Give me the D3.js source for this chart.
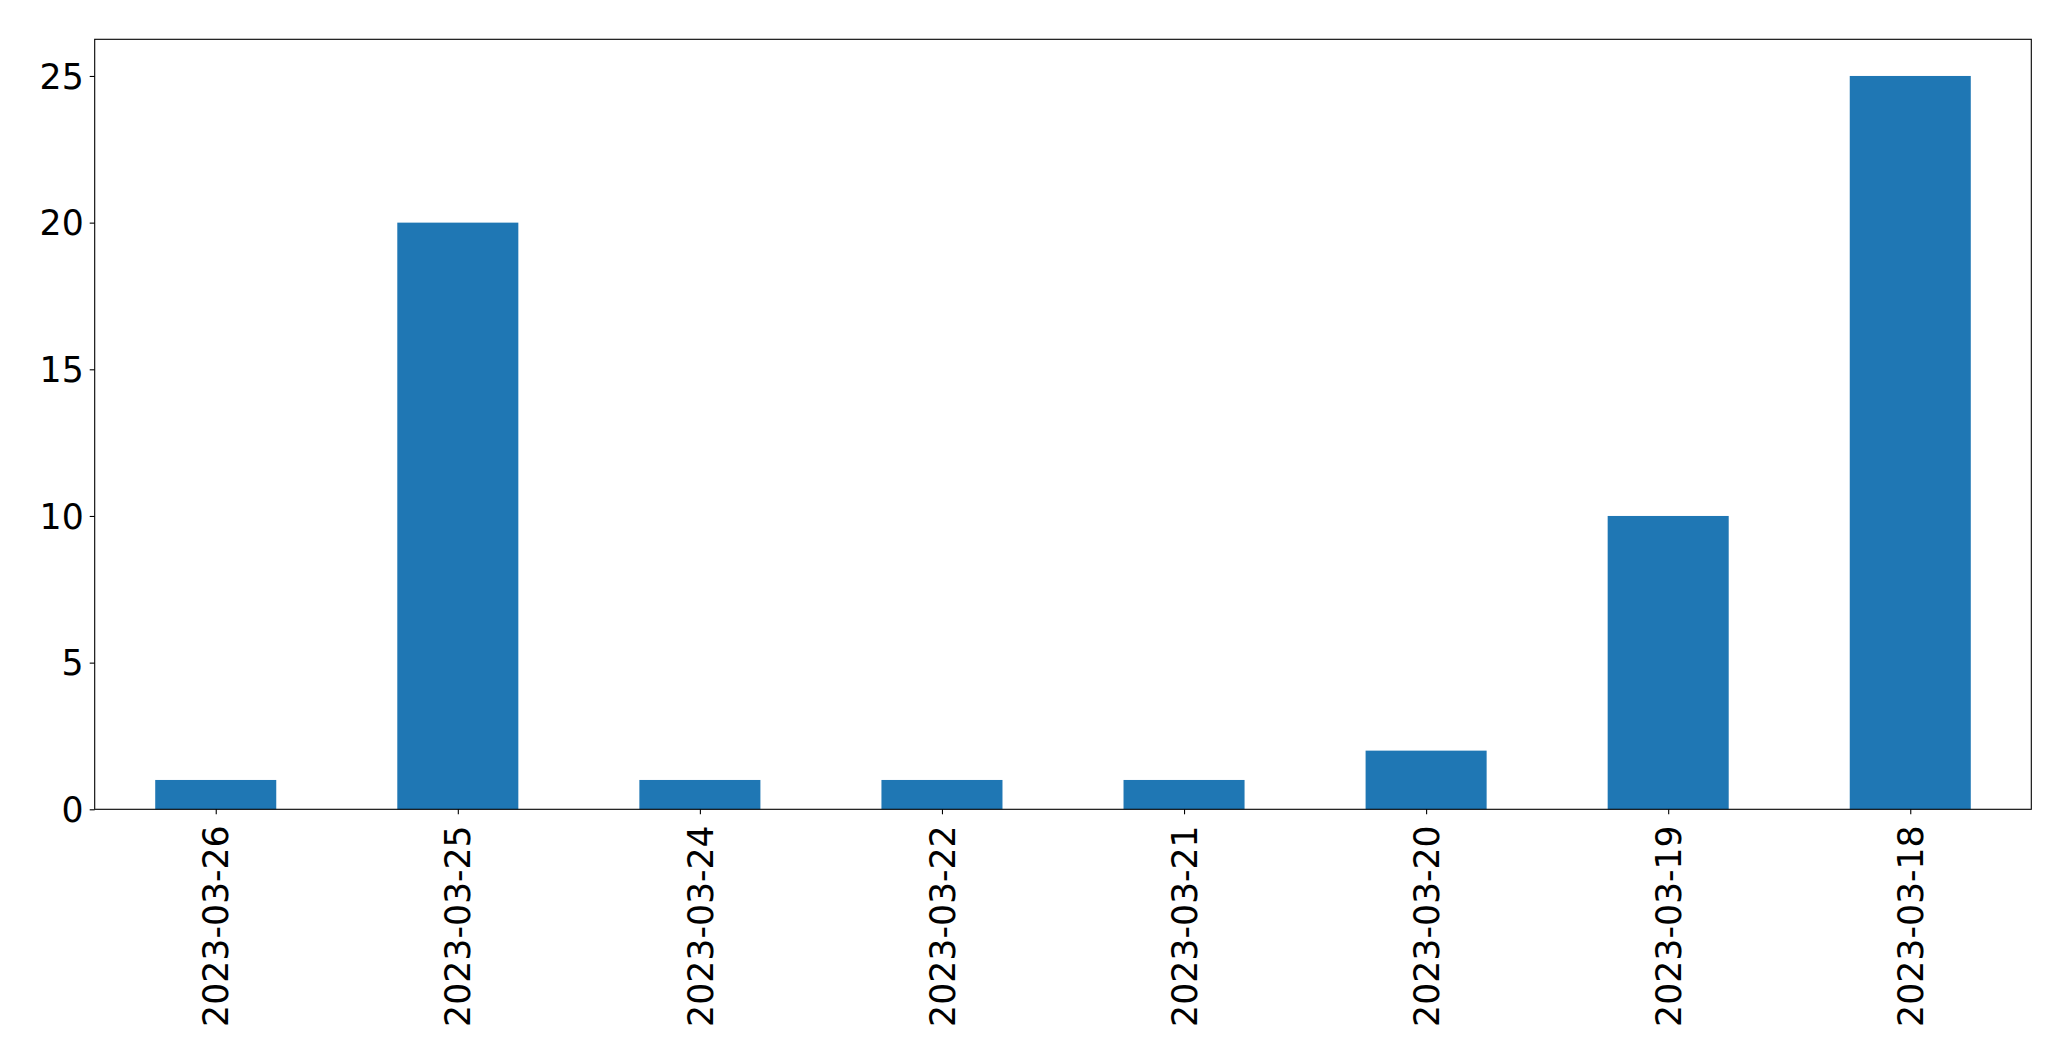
<!DOCTYPE html>
<html>
<head>
<meta charset="utf-8">
<script src="https://cdn.jsdelivr.net/npm/d3@7"></script>
<style>
html,body{margin:0;padding:0;background:#fff;}
svg{display:block;}
</style>
</head>
<body>
<script>
const categories = ["2023-03-26","2023-03-25","2023-03-24","2023-03-22","2023-03-21","2023-03-20","2023-03-19","2023-03-18"];
const values = [1, 20, 1, 1, 1, 2, 10, 25];
const yTicks = [0, 5, 10, 15, 20, 25];

const W = 2071, H = 1061;
const m = {left: 94.7, top: 39.3, right: W - 2031.3, bottom: H - 809.3};
const iw = W - m.left - m.right, ih = H - m.top - m.bottom;

const svg = d3.select("body").append("svg").attr("width", W).attr("height", H);
const g = svg.append("g").attr("transform", `translate(${m.left},${m.top})`);

const x = d3.scaleLinear().domain([-0.5, categories.length - 0.5]).range([0, iw]);
const y = d3.scaleLinear().domain([0, d3.max(values) * 1.05]).range([ih, 0]);

g.selectAll("rect.bar").data(values).join("rect")
  .attr("class", "bar")
  .attr("x", (d, i) => x(i - 0.25))
  .attr("width", (d, i) => x(i + 0.25) - x(i - 0.25))
  .attr("y", d => y(d))
  .attr("height", d => y(0) - y(d))
  .attr("fill", "#1f77b4");

const font = "'DejaVu Sans', sans-serif";
const fs = 34.7;

const yAxis = g.append("g").call(d3.axisLeft(y).tickValues(yTicks).tickSize(5).tickPadding(6).tickFormat(d3.format("d")));
yAxis.select(".domain").remove();
yAxis.selectAll("line").attr("stroke", "#000").attr("stroke-width", 1.1);
yAxis.selectAll("text").attr("font-family", font).attr("font-size", fs).attr("fill", "#000").attr("dy", "0.35em");

const xAxis = g.append("g").attr("transform", `translate(0,${ih})`)
  .call(d3.axisBottom(x).tickValues(d3.range(categories.length)).tickSize(5).tickFormat(i => categories[i]));
xAxis.select(".domain").remove();
xAxis.selectAll("line").attr("stroke", "#000").attr("stroke-width", 1.1);
xAxis.selectAll("text")
  .attr("font-family", font).attr("font-size", fs).attr("fill", "#000")
  .attr("text-anchor", "end")
  .attr("transform", "rotate(-90)")
  .attr("x", -16).attr("y", 0).attr("dy", "0.35em");

g.append("rect").attr("x", 0).attr("y", 0).attr("width", iw).attr("height", ih)
  .attr("fill", "none").attr("stroke", "#000").attr("stroke-width", 1.1);
</script>
</body>
</html>
